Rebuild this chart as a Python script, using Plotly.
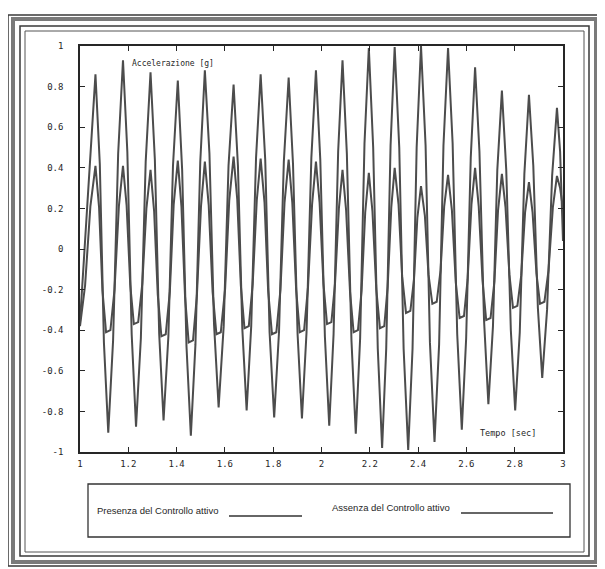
import plotly.graph_objects as go

# ---------------- data ----------------
# "Assenza del Controllo attivo" (large oscillation)
large_t = [1.000, 1.021, 1.043, 1.064,
           1.082, 1.099, 1.117, 1.137, 1.158, 1.178,
           1.196, 1.214, 1.232, 1.252, 1.272, 1.292,
           1.310, 1.328, 1.346, 1.366, 1.385, 1.405,
           1.423, 1.441, 1.459, 1.478, 1.498, 1.517,
           1.536, 1.555, 1.574, 1.595, 1.615, 1.636,
           1.654, 1.672, 1.690, 1.709, 1.729, 1.748,
           1.767, 1.785, 1.804, 1.824, 1.844, 1.864,
           1.882, 1.901, 1.919, 1.938, 1.958, 1.977,
           1.995, 2.014, 2.032, 2.050, 2.069, 2.087,
           2.105, 2.124, 2.142, 2.160, 2.178, 2.196,
           2.214, 2.233, 2.251, 2.268, 2.286, 2.303,
           2.322, 2.340, 2.359, 2.377, 2.394, 2.412,
           2.431, 2.449, 2.468, 2.487, 2.505, 2.524,
           2.543, 2.562, 2.581, 2.599, 2.618, 2.636,
           2.654, 2.673, 2.691, 2.710, 2.728, 2.747,
           2.765, 2.784, 2.802, 2.821, 2.840, 2.859,
           2.877, 2.896, 2.914, 2.934, 2.955, 2.975,
           2.988, 3.000]
large_y = [-0.36, 0.06, 0.50, 0.86,
           0.42, -0.46, -0.905, -0.45, 0.47, 0.93,
           0.48, -0.42, -0.875, -0.44, 0.43, 0.87,
           0.44, -0.42, -0.845, -0.43, 0.41, 0.83,
           0.39, -0.48, -0.92, -0.47, 0.43, 0.88,
           0.47, -0.37, -0.78, -0.38, 0.41, 0.81,
           0.41, -0.39, -0.795, -0.38, 0.45, 0.86,
           0.44, -0.41, -0.83, -0.41, 0.43, 0.845,
           0.42, -0.42, -0.835, -0.41, 0.45, 0.88,
           0.44, -0.43, -0.87, -0.42, 0.48, 0.93,
           0.47, -0.45, -0.91, -0.44, 0.52, 0.99,
           0.50, -0.49, -0.98, -0.49, 0.51, 0.995,
           0.50, -0.49, -0.99, -0.49, 0.50, 1.0,
           0.51, -0.46, -0.95, -0.47, 0.51, 0.99,
           0.52, -0.42, -0.89, -0.44, 0.45, 0.895,
           0.48, -0.35, -0.765, -0.38, 0.39, 0.78,
           0.39, -0.40, -0.795, -0.41, 0.37, 0.76,
           0.41, -0.29, -0.635, -0.30, 0.36, 0.695,
           0.48, 0.04]

# "Presenza del Controllo attivo" (reduced oscillation)
small_t = [1.000, 1.021, 1.043, 1.064,
           1.079, 1.093, 1.108, 1.126, 1.143, 1.161, 1.178,
           1.193, 1.208, 1.223, 1.241, 1.258, 1.275, 1.292,
           1.307, 1.322, 1.337, 1.355, 1.372, 1.388, 1.405,
           1.420, 1.435, 1.450, 1.468, 1.484, 1.501, 1.517,
           1.533, 1.549, 1.565, 1.583, 1.601, 1.618, 1.636,
           1.651, 1.666, 1.681, 1.699, 1.715, 1.732, 1.748,
           1.764, 1.779, 1.795, 1.813, 1.830, 1.847, 1.864,
           1.879, 1.895, 1.910, 1.928, 1.944, 1.961, 1.977,
           1.992, 2.008, 2.023, 2.041, 2.056, 2.072, 2.087,
           2.102, 2.118, 2.133, 2.151, 2.166, 2.181, 2.196,
           2.211, 2.227, 2.242, 2.260, 2.274, 2.289, 2.303,
           2.319, 2.334, 2.350, 2.368, 2.383, 2.397, 2.412,
           2.428, 2.443, 2.459, 2.477, 2.493, 2.508, 2.524,
           2.540, 2.556, 2.572, 2.590, 2.605, 2.621, 2.636,
           2.651, 2.667, 2.682, 2.700, 2.716, 2.731, 2.747,
           2.762, 2.778, 2.793, 2.811, 2.827, 2.843, 2.859,
           2.874, 2.890, 2.905, 2.923, 2.940, 2.958, 2.975,
           2.988, 3.000]
small_y = [-0.38, -0.18, 0.21, 0.41,
           0.205, -0.205, -0.41, -0.40, -0.20, 0.21, 0.41,
           0.215, -0.175, -0.37, -0.36, -0.17, 0.20, 0.39,
           0.185, -0.225, -0.43, -0.42, -0.21, 0.22, 0.435,
           0.21, -0.235, -0.46, -0.45, -0.23, 0.21, 0.43,
           0.215, -0.21, -0.42, -0.41, -0.195, 0.24, 0.455,
           0.245, -0.18, -0.39, -0.38, -0.175, 0.24, 0.445,
           0.23, -0.205, -0.42, -0.41, -0.20, 0.23, 0.44,
           0.23, -0.20, -0.41, -0.40, -0.19, 0.22, 0.43,
           0.23, -0.17, -0.37, -0.36, -0.17, 0.20, 0.39,
           0.19, -0.21, -0.41, -0.40, -0.205, 0.18, 0.375,
           0.185, -0.20, -0.39, -0.38, -0.185, 0.205, 0.40,
           0.22, -0.135, -0.315, -0.305, -0.15, 0.155, 0.31,
           0.165, -0.125, -0.27, -0.26, -0.105, 0.21, 0.365,
           0.19, -0.165, -0.34, -0.33, -0.15, 0.22, 0.40,
           0.21, -0.16, -0.35, -0.34, -0.16, 0.19, 0.37,
           0.205, -0.125, -0.29, -0.28, -0.13, 0.18, 0.33,
           0.18, -0.12, -0.27, -0.26, -0.105, 0.205, 0.36,
           0.30, 0.20]

x_ticks = [1, 1.2, 1.4, 1.6, 1.8, 2, 2.2, 2.4, 2.6, 2.8, 3]
x_tick_text = ["1", "1.2", "1.4", "1.6", "1.8", "2", "2.2", "2.4", "2.6", "2.8", "3"]
y_ticks = [-1, -0.8, -0.6, -0.4, -0.2, 0, 0.2, 0.4, 0.6, 0.8, 1]
y_tick_text = ["-1", "-0.8", "-0.6", "-0.4", "-0.2", "0", "0.2", "0.4", "0.6", "0.8", "1"]

y_title = "Accelerazione [g]"
x_title = "Tempo [sec]"
legend_labels = ["Presenza del Controllo attivo", "Assenza del Controllo attivo"]

# ---------------- layout geometry (window pixels) ----------------
W, H = 605, 569
OFF = 8                      # page body margin: the figure starts at (8, 8)
L, R, T, B = 80, 563, 46, 452


def px(x):
    return (x - L) / (R - L)


def py(y):
    return (B - y) / (B - T)


LINE = "#4c4c4c"
INK = "#262626"

fig = go.Figure()
fig.add_trace(go.Scatter(x=large_t, y=large_y, mode="lines", name=legend_labels[1],
                         line=dict(color=LINE, width=2), showlegend=False,
                         hoverinfo="skip"))
fig.add_trace(go.Scatter(x=small_t, y=small_y, mode="lines", name=legend_labels[0],
                         line=dict(color=LINE, width=2), showlegend=False,
                         hoverinfo="skip"))

shapes = []


def rect(x0, y0, x1, y1, color, width):
    shapes.append(dict(type="rect", xref="paper", yref="paper",
                       x0=px(x0), x1=px(x1), y0=py(y1), y1=py(y0),
                       line=dict(color=color, width=width), fillcolor="rgba(0,0,0,0)",
                       layer="above"))


# outer decorative frame
rect(8, 15, 601, 566, "#3a3a3a", 1.5)
rect(13, 19, 596, 562, "#7a7a7a", 4)
rect(20, 26, 589, 556, "#3a3a3a", 1.5)
rect(25, 31, 584, 552, "#555555", 1)

# legend box
rect(88, 484, 570, 537, "#333333", 1.3)
shapes.append(dict(type="line", xref="paper", yref="paper",
                   x0=px(229), x1=px(302), y0=py(516), y1=py(516),
                   line=dict(color="#333333", width=1.3)))
shapes.append(dict(type="line", xref="paper", yref="paper",
                   x0=px(461), x1=px(553), y0=py(513), y1=py(513),
                   line=dict(color="#333333", width=1.3)))

annotations = [
    dict(text=y_title, xref="paper", yref="paper", x=px(130), y=py(63),
         xanchor="left", yanchor="middle", showarrow=False,
         font=dict(family="DejaVu Sans Mono", size=8, color=INK)),
    dict(text=x_title, xref="paper", yref="paper", x=px(478), y=py(433),
         xanchor="left", yanchor="middle", showarrow=False,
         font=dict(family="DejaVu Sans Mono", size=8.5, color=INK)),
    dict(text=legend_labels[0], xref="paper", yref="paper", x=px(95), y=py(510),
         xanchor="left", yanchor="middle", showarrow=False,
         font=dict(family="Liberation Sans", size=9.5, color=INK)),
    dict(text=legend_labels[1], xref="paper", yref="paper", x=px(330), y=py(507),
         xanchor="left", yanchor="middle", showarrow=False,
         font=dict(family="Liberation Sans", size=9.5, color=INK)),
]

axis_common = dict(showgrid=False, zeroline=False, showline=True, linecolor=INK,
                   linewidth=1.5, mirror="ticks", ticks="inside", ticklen=5,
                   tickwidth=1.2, tickcolor=INK,
                   tickfont=dict(family="DejaVu Sans Mono", size=9, color=INK))

fig.update_layout(
    width=W - OFF, height=H - OFF,
    margin=dict(l=L - OFF, r=W - R, t=T - OFF, b=H - B),
    paper_bgcolor="white", plot_bgcolor="white",
    xaxis=dict(range=[1, 3], tickmode="array", tickvals=x_ticks, ticktext=x_tick_text,
               ticklabelstandoff=2, **axis_common),
    yaxis=dict(range=[-1, 1], tickmode="array", tickvals=y_ticks, ticktext=y_tick_text,
               ticklabelstandoff=13, **axis_common),
    shapes=shapes,
    annotations=annotations,
    showlegend=False,
)

fig.write_html("out.html")
